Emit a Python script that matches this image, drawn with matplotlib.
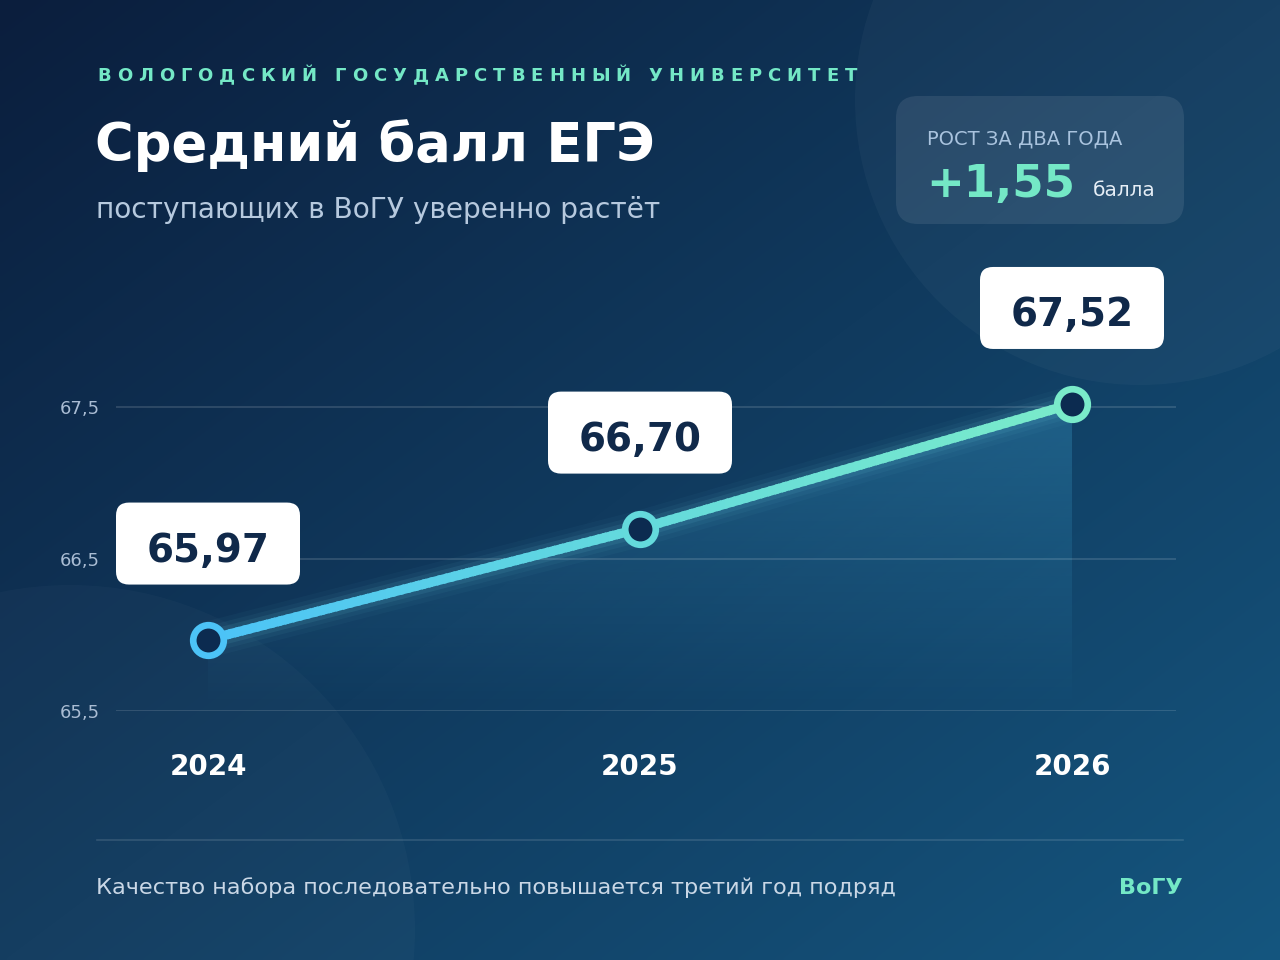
import numpy as np
import matplotlib
matplotlib.use("Agg")
import matplotlib.pyplot as plt
from matplotlib.patches import FancyBboxPatch, Circle, Rectangle, Polygon
from matplotlib.colors import to_rgb, LinearSegmentedColormap
from matplotlib.transforms import ScaledTranslation

plt.rcParams['font.family'] = ['DejaVu Sans']

# ---------------- data ----------------
years = [2024, 2025, 2026]
scores = [65.97, 66.70, 67.52]
score_labels = ["65,97", "66,70", "67,52"]
year_labels = ["2024", "2025", "2026"]
y_ticks = [65.5, 66.5, 67.5]
y_tick_labels = ["65,5", "66,5", "67,5"]

header_text = "ВОЛОГОДСКИЙ ГОСУДАРСТВЕННЫЙ УНИВЕРСИТЕТ"
title_text = "Средний балл ЕГЭ"
subtitle_text = "поступающих в ВоГУ уверенно растёт"
badge_caption = "РОСТ ЗА ДВА ГОДА"
badge_value = "+1,55"
badge_unit = "балла"
footer_text = "Качество набора последовательно повышается третий год подряд"
brand_text = "ВоГУ"

# ---------------- style ----------------
MINT = '#74e8c6'
W, H = 1280, 960
fig = plt.figure(figsize=(12.8, 9.6), dpi=100)

# background axes in pixel coordinates (y down)
bg = fig.add_axes([0, 0, 1, 1])
yy, xx = np.mgrid[0:H:4, 0:W:4]
t = xx / W * 0.5 + yy / H * 0.5
c0 = np.array(to_rgb('#0b1e3d'))
c1 = np.array(to_rgb('#15567f'))
img = c0 + (c1 - c0) * t[..., None]
bg.imshow(img, extent=[0, W, H, 0], aspect='auto', interpolation='bilinear', zorder=0)
bg.set_xlim(0, W)
bg.set_ylim(H, 0)
bg.axis('off')

bg.add_patch(Circle((1140, 100), 285, fc='white', alpha=0.03, ec='none', zorder=1))
bg.add_patch(Circle((70, 930), 345, fc='white', alpha=0.025, ec='none', zorder=1))

# header with letter spacing
renderer = fig.canvas.get_renderer()
x = 97
for ch in header_text:
    if ch == ' ':
        x += 12
        continue
    tx = bg.text(x, 76, ch, fontsize=13, fontweight='bold', color=MINT,
                 ha='left', va='center', zorder=5)
    bb = tx.get_window_extent(renderer)
    x += bb.width + 6

bg.text(95, 146, title_text, fontsize=38, fontweight='bold', color='white',
        ha='left', va='center', zorder=5)
bg.text(96, 210, subtitle_text, fontsize=20.2, color='#b6c9de',
        ha='left', va='center', zorder=5)

# badge
bg.add_patch(FancyBboxPatch((896, 96), 288, 128,
                            boxstyle='round,pad=0,rounding_size=22',
                            fc='white', alpha=0.085, ec='none', zorder=2))
bg.text(927, 139, badge_caption, fontsize=14, color='#a9c3de',
        ha='left', va='center', zorder=5)
bg.text(926, 197, badge_value, fontsize=32.5, fontweight='bold', color=MINT,
        ha='left', va='baseline', zorder=5)
bg.text(1093, 196, badge_unit, fontsize=14.5, color='#e6eef6',
        ha='left', va='baseline', zorder=5)

# footer
bg.plot([97, 1183], [840, 840], color='white', alpha=0.13, lw=1.2, zorder=2)
bg.text(96, 888, footer_text, fontsize=16.1, color='#c9d7e6',
        ha='left', va='center', zorder=5)
bg.text(1183, 888, brand_text, fontsize=16, fontweight='bold', color=MINT,
        ha='right', va='center', zorder=5)

# ---------------- main chart ----------------
x_left = years[0] - 92 / 432
x_right = years[-1] + 104 / 432
ax = fig.add_axes([116 / W, (H - 711) / H, 1060 / W, (711 - 250) / H])
ax.patch.set_alpha(0)
for s in ax.spines.values():
    s.set_visible(False)

for yv in y_ticks:
    ax.axhline(yv, color='white', alpha=0.14, lw=1.3, zorder=1.5)

ax.set_yticks(y_ticks, y_tick_labels)
ax.tick_params(axis='y', length=0, pad=11.5, labelsize=13, labelcolor='#a9bcd3')
ax.set_xticks(years, year_labels)
ax.tick_params(axis='x', length=0, pad=30, labelsize=20, labelcolor='white')
for lbl in ax.get_xticklabels():
    lbl.set_fontweight('bold')

# gradient fill under line
ylo = y_ticks[0]
ytop = max(scores) + 0.1
grad = np.zeros((256, 1, 4))
grad[..., :3] = to_rgb('#40aad8')
grad[:, 0, 3] = np.linspace(0.32, 0.0, 256)
im = ax.imshow(grad, extent=[years[0], years[-1], ylo, ytop], origin='upper',
               aspect='auto', interpolation='bilinear', zorder=1)
verts = [(years[0], ylo)] + list(zip(years, scores)) + [(years[-1], ylo)]
poly = Polygon(verts, closed=True, fc='none', ec='none', transform=ax.transData)
ax.add_patch(poly)
im.set_clip_path(poly)

# glow
for lw, a in [(26, 0.035), (19, 0.05), (13, 0.09)]:
    ax.plot(years, scores, color='#78e0f0', lw=lw, alpha=a,
            solid_capstyle='round', zorder=2)

# gradient line
cmap = LinearSegmentedColormap.from_list('g', ['#4cc3f7', '#64dadc', '#7aebca'])
N = 120
edges = np.linspace(years[0], years[-1], N + 1)
for i in range(N):
    ln, = ax.plot(years, scores, color=cmap(i / (N - 1)), lw=6.8,
                  solid_capstyle='butt', zorder=3)
    clip = Rectangle((edges[i] - 0.004, 60), edges[i + 1] - edges[i] + 0.008, 20,
                     transform=ax.transData)
    ln.set_clip_path(clip)

# markers
for xv, yv in zip(years, scores):
    frac = (xv - years[0]) / (years[-1] - years[0])
    ax.plot(xv, yv, 'o', ms=22, mew=4.8, mfc='#0c2b50', mec=cmap(frac),
            zorder=5, clip_on=False)

# value boxes
for xv, yv, lab in zip(years, scores, score_labels):
    tr = fig.dpi_scale_trans + ScaledTranslation(xv, yv, ax.transData)
    box = FancyBboxPatch((-0.92, 0.55), 1.84, 0.82,
                         boxstyle='round,pad=0,rounding_size=0.13',
                         transform=tr, fc='white', ec='none', zorder=6, clip_on=False)
    ax.add_patch(box)
    ax.text(0, 0.93, lab, transform=tr, fontsize=28, fontweight='bold',
            color='#10294a', ha='center', va='center_baseline', zorder=7, clip_on=False)

ax.set_xlim(x_left, x_right)
ax.set_ylim(ylo, ylo + 461 / 152)

fig.savefig('out.png', dpi=100)
